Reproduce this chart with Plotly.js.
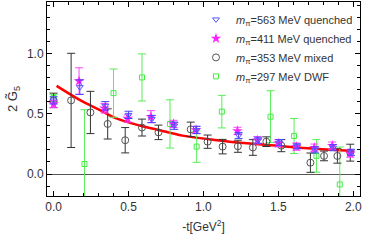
<!DOCTYPE html>
<html><head><meta charset="utf-8">
<script src="https://cdn.plot.ly/plotly-3.0.1.min.js"></script>
<style>body{margin:0;padding:0;background:#fff}#plot{width:366px;height:240px}</style>
</head><body><div id="plot"></div>
<script>
// m_pi = 563 MeV quenched (open down triangles)
const q563T = [0, 0.175, 0.345, 0.50, 0.655, 0.805, 0.955, 1.235, 1.365, 1.505, 1.625, 1.745, 1.865, 1.985];
const q563V = [0.61, 0.72, 0.565, 0.49, 0.456, 0.40, 0.365, 0.32, 0.28, 0.26, 0.23, 0.20, 0.218, 0.18];
const q563E = [0.03, 0.06, 0.035, 0.03, 0.03, 0.03, 0.03, 0.025, 0.025, 0.025, 0.02, 0.025, 0.025, 0.025];
// m_pi = 411 MeV quenched (filled stars)
const q411T = [0, 0.17, 0.339, 0.494, 0.65, 0.80, 0.95, 1.227, 1.36, 1.50, 1.62, 1.74, 1.86, 1.98];
const q411V = [0.58, 0.77, 0.545, 0.46, 0.475, 0.415, 0.365, 0.357, 0.28, 0.255, 0.227, 0.218, 0.235, 0.17];
const q411E = [0.03, 0.11, 0.04, 0.03, 0.05, 0.03, 0.03, 0.03, 0.03, 0.03, 0.03, 0.03, 0.03, 0.03];
// m_pi = 353 MeV mixed (open circles)
const mix353T = [0, 0.117, 0.246, 0.361, 0.478, 0.59, 0.70, 0.915, 1.028, 1.128, 1.23, 1.33, 1.42, 1.52, 1.714, 1.805, 1.894, 1.98];
const mix353V = [0.61, 0.61, 0.51, 0.415, 0.28, 0.385, 0.345, 0.37, 0.268, 0.227, 0.23, 0.22, 0.268, 0.235, 0.094, 0.15, 0.15, 0.177];
const mix353E = [0.06, 0.39, 0.175, 0.125, 0.105, 0.07, 0.06, 0.06, 0.055, 0.06, 0.05, 0.065, 0.04, 0.05, 0.08, 0.04, 0.06, 0.07];
// m_pi = 297 MeV DWF (open squares)
const dwf297T = [0, 0.206, 0.40, 0.59, 0.777, 0.955, 1.123, 1.448, 1.605, 1.754, 1.91];
const dwf297V = [0.63, 0.083, 0.67, 0.80, 0.415, 0.227, 0.517, 0.475, 0.315, 0.15, -0.086];
const dwf297E = [0.03, 0.45, 0.2, 0.195, 0.2, 0.13, 0.135, 0.215, 0.145, 0.135, 0.31];
// fit curve (red)
const fitT = [0.02, 0.18, 0.31, 0.41, 0.58, 0.70, 0.86, 1.09, 1.31, 1.43, 1.70, 2.0];
const fitV = [0.73, 0.61, 0.53, 0.465, 0.40, 0.365, 0.318, 0.28, 0.252, 0.24, 0.213, 0.19];

const names = ['<i>m</i><sub>π</sub>=563 MeV quenched','<i>m</i><sub>π</sub>=411 MeV quenched','<i>m</i><sub>π</sub>=353 MeV mixed','<i>m</i><sub>π</sub>=297 MeV DWF'];

const traces = [
  {x: fitT, y: fitV, mode: 'lines', line: {color: '#ff0000', width: 2.5, shape: 'spline'}, showlegend: false, hoverinfo: 'skip'},
  {x: dwf297T, y: dwf297V, mode: 'markers', name: names[3],
   marker: {symbol: 'square-open', size: 5, color: '#44ee44', line: {width: 1}},
   error_y: {type: 'data', array: dwf297E, color: '#55ee55', thickness: 1, width: 4}},
  {x: mix353T, y: mix353V, mode: 'markers', name: names[2],
   marker: {symbol: 'circle-open', size: 7, color: '#555555', line: {width: 1}},
   error_y: {type: 'data', array: mix353E, color: '#333333', thickness: 1, width: 4}},
  {x: q411T, y: q411V, mode: 'markers', name: names[1],
   marker: {symbol: 'star', size: 8, color: '#ff22ff'},
   error_y: {type: 'data', array: q411E, color: '#ff44ff', thickness: 1, width: 4}},
  {x: q563T, y: q563V, mode: 'markers', name: names[0],
   marker: {symbol: 'triangle-down-open', size: 6, color: '#5555ff', line: {width: 1}},
   error_y: {type: 'data', array: q563E, color: '#4444ff', thickness: 1, width: 4}}
];

const axisCommon = {
  showline: true, linecolor: '#000', linewidth: 1, mirror: 'allticks',
  ticks: 'inside', ticklen: 5, tickcolor: '#000', showgrid: false,
  tickfont: {family: 'Liberation Sans, Arial, sans-serif', size: 12, color: '#333'}
};

const layout = {
  width: 366, height: 240,
  margin: {l: 47, r: 6, t: 2, b: 44},
  paper_bgcolor: '#fff', plot_bgcolor: '#fff',
  font: {family: 'Liberation Sans, Arial, sans-serif', size: 12, color: '#333'},
  xaxis: Object.assign({}, axisCommon, {
    range: [-0.044, 2.045], tick0: 0, dtick: 0.5, tickformat: '.1f', zeroline: false,
    minor: {dtick: 0.1, tick0: 0, ticks: 'inside', ticklen: 3, tickcolor: '#000'},
    title: {text: '-t[GeV<sup>2</sup>]', font: {size: 12, color: '#333'}, standoff: 9}
  }),
  yaxis: Object.assign({}, axisCommon, {
    range: [-0.182, 1.425], tick0: 0, dtick: 0.5, tickformat: '.1f',
    zeroline: true, zerolinecolor: '#555', zerolinewidth: 1,
    minor: {dtick: 0.1, tick0: 0, ticks: 'inside', ticklen: 3, tickcolor: '#000'},
    title: {text: '2 G\u0303<sub>5</sub>', font: {size: 13, color: '#333'}, standoff: 6}
  }),
  legend: {x: 0.476, y: 0.985, xanchor: 'left', yanchor: 'top', bgcolor: 'rgba(0,0,0,0)',
    font: {size: 11, color: '#333'}, traceorder: 'reversed', tracegroupgap: 0},
  showlegend: true
};

Plotly.newPlot('plot', traces, layout, {staticPlot: true, displayModeBar: false});
</script></body></html>
